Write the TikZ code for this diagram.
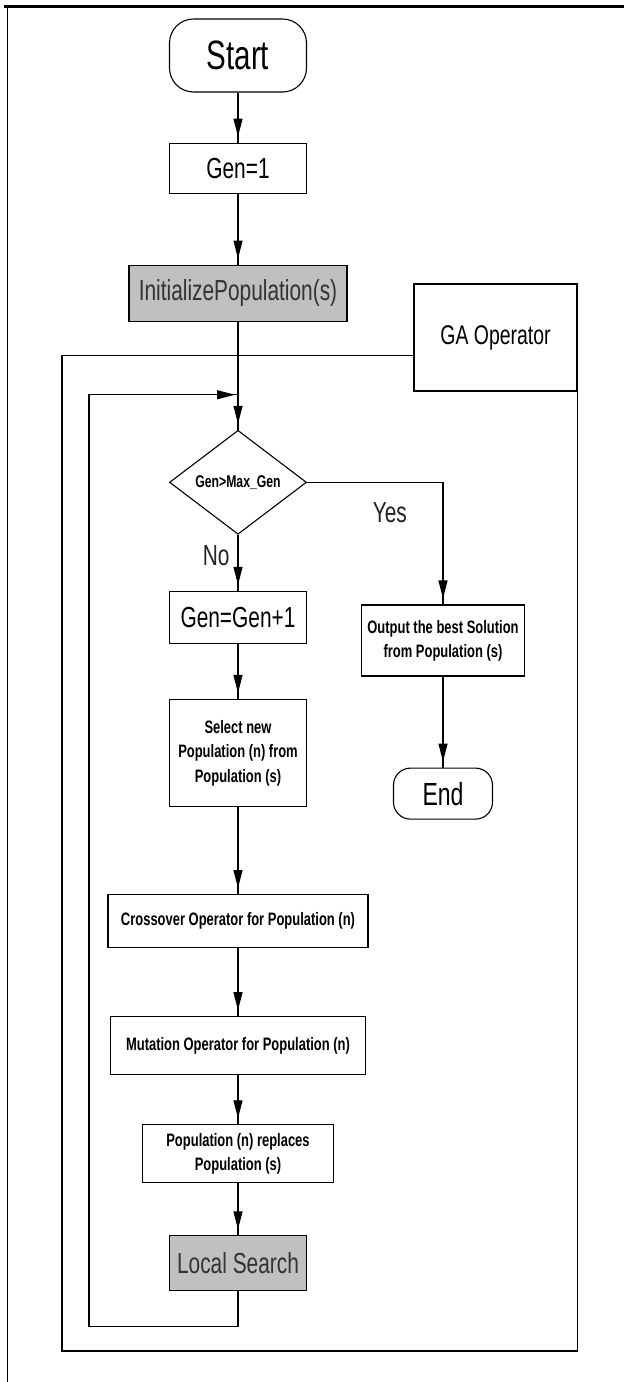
\documentclass[tikz,border=0pt]{standalone}
\usepackage{fontspec}
\setmainfont[FakeStretch=0.72]{Liberation Sans}
\usetikzlibrary{shapes.geometric, arrows.meta, positioning, calc, decorations.markings}
\definecolor{boxGray}{HTML}{C0C0C0}
\definecolor{inkD}{HTML}{222222}
\newcommand{\gafs}[2]{\fontsize{#1}{#2}\selectfont}

\begin{document}
\begin{tikzpicture}[
  x=1pt, y=-1pt,
  terminal/.style={
    draw, fill=white, rounded corners=#1,
    inner sep=0pt, align=center,
    line width=1.1pt
  },
  stepbox/.style={
    draw, fill=white,
    inner sep=0pt, align=center,
    line width=1.1pt
  },
  greybox/.style={
    stepbox, fill=boxGray, text=black!80
  },
  decision/.style={
    diamond, draw, fill=white,
    aspect=1.32, inner sep=0pt,
    minimum width=137pt, minimum height=104pt,
    line width=1.1pt
  },
  smalltxt/.style={font=\bfseries\gafs{18}{24.5}},
  bigtxt/.style={font=\gafs{29}{32}},
  lbl/.style={font=\gafs{29}{32}, text=inkD, inner sep=0pt},
  arr/.style={
    line width=1.1pt,
    decoration={markings,
      mark=at position -#1 with {\arrow{Triangle[length=18pt, width=9pt]}}},
    postaction={decorate}
  },
  arr/.default=6pt
]
\useasboundingbox (0,0) rectangle (624,1382);

%% ═══ PAGE FRAME ═══
\draw[line width=3pt] (4,6.5) -- (624,6.5);
\draw[line width=1.6pt] (7.5,5) -- (7.5,1382);

%% ═══ MAIN CHAIN ═══
\node[terminal=24pt, minimum width=137pt, minimum height=73pt,
  font=\gafs{41}{44}] (start) at (238,55.5) {Start};

\node[stepbox, bigtxt, minimum width=137pt, minimum height=50pt,
  below=50pt of start] (gen1) {Gen=1};
\draw[arr] (start) -- (gen1);

\node[greybox, bigtxt, minimum width=218pt, minimum height=56pt,
  below=71pt of gen1] (init) {InitializePopulation(s)};
\draw[arr] (gen1) -- (init);

\node[decision, font=\bfseries\gafs{17}{20},
  below=108pt of init] (dia) {Gen>Max\_Gen};
\draw[arr] (init) -- (dia);

\node[stepbox, bigtxt, minimum width=137pt, minimum height=52pt,
  below=56pt of dia] (gen2) {Gen=Gen+1};
\draw[arr] (dia) -- (gen2)
  node[lbl, pos=0.375, anchor=east, xshift=-8pt] (no) {No};

\node[stepbox, smalltxt, minimum width=137.5pt, minimum height=107pt,
  below=55pt of gen2] (sel)
  {Select new\\Population (n) from\\Population (s)};
\draw[arr] (gen2) -- (sel);

\node[stepbox, smalltxt, minimum width=260pt, minimum height=53pt,
  below=87pt of sel] (cross) {Crossover Operator for Population (n)};
\draw[arr] (sel) -- (cross);

\node[stepbox, smalltxt, minimum width=255pt, minimum height=58pt,
  below=68pt of cross] (mut) {Mutation Operator for Population (n)};
\draw[arr] (cross) -- (mut);

\node[stepbox, smalltxt, minimum width=191pt, minimum height=58pt,
  below=49pt of mut] (rep) {Population (n) replaces\\Population (s)};
\draw[arr] (mut) -- (rep);

\node[greybox, bigtxt, minimum width=137pt, minimum height=55pt,
  below=52pt of rep] (local) {Local Search};
\draw[arr] (rep) -- (local);

%% ═══ YES BRANCH ═══
\node[stepbox, font=\bfseries\gafs{18}{24}, minimum width=162.5pt,
  minimum height=71pt] (out) at (443,640.5)
  {Output the best Solution\\from Population (s)};
\draw[arr] (dia.east) -| (out.north)
  node[lbl, pos=0.24, anchor=west, yshift=-30pt] (yes) {Yes};

\node[terminal=17pt, minimum width=99pt, minimum height=51pt,
  font=\gafs{32}{35}, below=91pt of out] (end) {End};
\draw[arr] (out) -- (end);

%% ═══ LOOP BACK ═══
\coordinate[below=73pt of init.south] (join);
\draw[arr=3pt] (local.south) -- ++(0,35) -| ($(join)+(-149,0)$) -- (join);

%% ═══ GA OPERATOR FRAME ═══
\node[stepbox, font=\gafs{27}{30}, minimum width=163pt,
  minimum height=107pt] (gaop) at (495.5,337.5) {GA Operator};
\draw[line width=1.1pt] ([yshift=-72pt]gaop.north west)
  -| (62,1351) -| (gaop.south east);

\end{tikzpicture}
\end{document}
